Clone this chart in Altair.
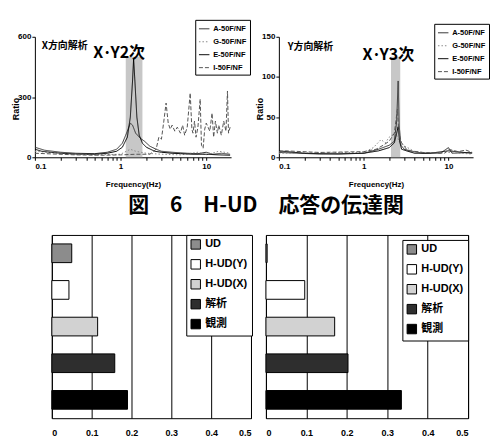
import altair as alt
import pandas as pd

FONT = "Liberation Sans, Noto Sans CJK JP, sans-serif"
CJK = "Noto Sans CJK JP"

# ---------------- top charts (transfer functions) ----------------
series = ["A-50F/NF", "G-50F/NF", "E-50F/NF", "I-50F/NF"]
series_colors = ["#333333", "#8a8a8a", "#000000", "#555555"]
series_dash = [[1, 0], [1.5, 2], [1, 0], [4, 2]]
series_width = [1.0, 1.0, 1.8, 1.0]

x_A = [(0.1, 50), (0.13, 35), (0.2, 25), (0.3, 20), (0.5, 18), (0.7, 25), (0.9, 40), (1.05, 70),
       (1.2, 130), (1.3, 170), (1.38, 160), (1.5, 120), (1.7, 95), (1.9, 80), (2.2, 55), (2.6, 40),
       (3.0, 30), (4.0, 25), (6.0, 20), (8.0, 18), (10, 25), (12, 15), (15, 20), (19, 15)]
x_G = [(0.1, 30), (0.2, 20), (0.5, 12), (1.0, 15), (1.3, 40), (1.5, 30), (2.0, 20), (3.0, 15),
       (5.0, 12), (8.0, 25), (10, 12), (14, 30), (19, 20)]
x_E = [(0.1, 40), (0.12, 30), (0.15, 25), (0.2, 20), (0.3, 16), (0.5, 15), (0.7, 20), (0.9, 30),
       (1.05, 50), (1.2, 100), (1.3, 200), (1.38, 380), (1.42, 490), (1.47, 380), (1.55, 200),
       (1.65, 110), (1.8, 70), (2.0, 50), (2.5, 30), (3.0, 25), (4.0, 20), (5.0, 18), (7.0, 15),
       (10, 15), (14, 12), (19, 10)]
x_I = [(0.1, 20), (0.3, 12), (0.6, 10), (1.0, 12), (1.5, 15), (2.2, 15), (2.6, 40), (2.8, 100),
       (3.0, 90), (3.2, 180), (3.4, 270), (3.6, 170), (3.8, 140), (4.0, 160), (4.3, 130), (4.6, 150),
       (5.0, 120), (5.3, 160), (5.6, 110), (6.0, 150), (6.5, 320), (6.8, 140), (7.0, 120), (7.3, 180),
       (7.6, 100), (8.0, 150), (8.5, 290), (8.8, 60), (9.2, 45), (9.6, 140), (10.0, 170), (10.5, 150),
       (11.0, 130), (11.7, 220), (12.2, 100), (12.8, 180), (13.5, 120), (14.0, 160), (15.0, 110),
       (16.0, 180), (17.0, 130), (17.7, 330), (18.2, 120), (19.0, 150)]

y_A = [(0.1, 6), (0.3, 4), (1.0, 5), (1.5, 10), (2.0, 15), (2.3, 20), (2.45, 45), (2.55, 95),
       (2.62, 40), (2.75, 15), (3.0, 10), (3.5, 8), (5.0, 5), (8.0, 5), (10, 12), (11, 5), (19, 6)]
y_G = [(0.1, 5), (1.0, 6), (1.3, 12), (1.6, 22), (1.8, 18), (2.0, 25), (2.2, 28), (2.4, 30),
       (2.6, 20), (2.9, 15), (3.3, 12), (4.0, 7), (6.0, 5), (10, 6), (19, 4)]
y_E = [(0.1, 8), (0.2, 5), (0.5, 4), (1.0, 5), (1.5, 8), (2.0, 12), (2.3, 18), (2.45, 30),
       (2.55, 38), (2.65, 20), (2.8, 10), (3.2, 8), (4.0, 5), (6.0, 5), (10, 8), (19, 5)]
y_I = [(0.1, 7), (0.12, 8), (0.3, 6), (1.0, 7), (1.4, 10), (1.7, 15), (2.0, 20), (2.3, 30),
       (2.5, 60), (2.6, 30), (2.8, 18), (3.2, 10), (3.6, 8), (5.0, 6), (9.0, 5), (10, 10), (13, 7),
       (16, 9), (19, 6)]

freq_ticks = [0.1, 0.2, 0.3, 0.4, 0.5, 0.6, 0.7, 0.8, 0.9, 1, 2, 3, 4, 5, 6, 7, 8, 9, 10]
x_yticks = [0, 300, 600]
y_yticks = [0, 50, 100, 150]

# ---------------- bottom charts ----------------
bar_cats = ["UD", "H-UD(Y)", "H-UD(X)", "解析", "観測"]
bar_left = [0.05, 0.043, 0.115, 0.158, 0.19]
bar_right = [0.003, 0.096, 0.17, 0.203, 0.335]
bar_colors = ["#8c8c8c", "#ffffff", "#d2d2d2", "#2e2e2e", "#000000"]
bar_ticks = [0, 0.1, 0.2, 0.3, 0.4, 0.5]


def line_panel(datasets, ymax, yticks, w, h, label, label_pos, ann, ann_pos, band, leg_xy):
    rows = [{"series": s, "f": f, "r": r} for s, pts in zip(series, datasets) for f, r in pts]
    df = pd.DataFrame(rows)
    xscale = alt.Scale(type="log", domain=[0.1, 19.5], nice=False)
    yscale = alt.Scale(domain=[0, ymax], nice=False)
    xaxis = alt.Axis(values=freq_ticks, labelOverlap=False,
                     labelExpr="datum.value == 0.1 ? '0.1' : datum.value == 1 ? '1' : datum.value == 10 ? '10' : ''",
                     title="Frequency(Hz)", titleFontSize=8, titleFontWeight="bold",
                     titleBaseline="middle", titleY=27, grid=False, tickSize=3, labelPadding=2,
                     labelFontSize=8, labelFontWeight="bold", domainColor="black", tickColor="black",
                     labelColor="black", titleColor="black")
    yaxis = alt.Axis(values=yticks, title="Ratio", titleFontSize=9, titleFontWeight="bold",
                     titleX=-14, titleY=72, grid=False, tickSize=3, labelPadding=1,
                     labelFontSize=8, labelFontWeight="bold", domainColor="black", tickColor="black",
                     labelColor="black", titleColor="black")
    bdf = pd.DataFrame({"f": [band[0]], "f2": [band[1]], "r": [0], "r2": [band[2]]})
    band_layer = alt.Chart(bdf).mark_rect(color="#bdbdbd", opacity=0.85).encode(
        x=alt.X("f:Q", scale=xscale, axis=xaxis), x2="f2:Q",
        y=alt.Y("r:Q", scale=yscale, axis=yaxis), y2="r2:Q")
    leg = alt.Legend(orient="none", legendX=leg_xy[0], legendY=leg_xy[1], title=None,
                     strokeColor="black", fillColor="white", padding=3, labelFontSize=7.5,
                     labelFontWeight="bold", labelColor="black", symbolSize=110, rowPadding=3,
                     labelOffset=3, symbolStrokeWidth=1.2)
    lines = alt.Chart(df).mark_line(clip=True).encode(
        x=alt.X("f:Q", scale=xscale, axis=xaxis),
        y=alt.Y("r:Q", scale=yscale, axis=yaxis),
        color=alt.Color("series:N", scale=alt.Scale(domain=series, range=series_colors), legend=leg),
        strokeDash=alt.StrokeDash("series:N", scale=alt.Scale(domain=series, range=series_dash), legend=leg),
        strokeWidth=alt.StrokeWidth("series:N", scale=alt.Scale(domain=series, range=series_width), legend=leg),
    )
    tdf = pd.DataFrame({"f": [label_pos[0]], "r": [label_pos[1]], "t": [label]})
    lab = alt.Chart(tdf).mark_text(align="left", baseline="middle", fontSize=10, font=CJK,
                                   fontWeight="bold", color="black").encode(
        x=alt.X("f:Q", scale=xscale), y=alt.Y("r:Q", scale=yscale), text="t:N")
    adf = pd.DataFrame({"f": [ann_pos[0]], "r": [ann_pos[1]], "t": [ann]})
    an = alt.Chart(adf).mark_text(align="center", baseline="middle", fontSize=16, font=CJK,
                                  fontWeight="bold", color="black").encode(
        x=alt.X("f:Q", scale=xscale), y=alt.Y("r:Q", scale=yscale), text="t:N")
    return alt.layer(band_layer, lines, lab, an).properties(width=w, height=h)


def bar_panel(vals, w, h, leg_xy):
    df = pd.DataFrame({"cat": bar_cats, "v": vals})
    leg = alt.Legend(orient="none", legendX=leg_xy[0], legendY=leg_xy[1], title=None,
                     symbolType="square", symbolSize=90, symbolStrokeColor="black",
                     symbolStrokeWidth=1, labelFontSize=11, labelFontWeight="bold",
                     labelColor="black", strokeColor="black", fillColor="white", padding=4,
                     rowPadding=5, labelFont=FONT)
    return alt.Chart(df).mark_bar(stroke="black", strokeWidth=1).encode(
        x=alt.X("v:Q", scale=alt.Scale(domain=[0, 0.5], nice=False),
                axis=alt.Axis(values=bar_ticks, format="~g", grid=True, gridColor="black",
                              gridOpacity=1, gridWidth=1, tickSize=0, labelPadding=10,
                              labelFontSize=9, labelFontWeight="bold", labelColor="black",
                              domain=False, title=None)),
        y=alt.Y("cat:N", sort=bar_cats, scale=alt.Scale(paddingInner=0.49, paddingOuter=0.245),
                axis=None),
        color=alt.Color("cat:N", scale=alt.Scale(domain=bar_cats, range=bar_colors), legend=leg),
    ).properties(width=w, height=h, view=alt.ViewBackground(stroke="black", strokeWidth=1))


top_left = line_panel([x_A, x_G, x_E, x_I], 600, x_yticks, 197, 121, "X方向解析", (0.12, 555),
                      "X·Y2次", (0.96, 520), (1.15, 1.8, 500), (161, -17))
top_right = line_panel([y_A, y_G, y_E, y_I], 150, y_yticks, 195, 121, "Y方向解析", (0.127, 137),
                       "X·Y3次", (1.95, 127), (2.1, 2.7, 125), (156, -13))

spacer = alt.Chart(pd.DataFrame({"a": [0]})).mark_point(opacity=0).encode(
    x=alt.X("a:Q", axis=None), y=alt.Y("a:Q", axis=None)).properties(width=2, height=184)

bot_left = bar_panel(bar_left, 200, 184, (135, 0))
bot_right = bar_panel(bar_right, 203, 184, (137, 5))

top_row = alt.hconcat(top_left, top_right, spacing=48, bounds="flush").resolve_scale(
    x="independent", y="independent", color="independent", strokeDash="independent",
    strokeWidth="independent").resolve_legend(color="independent", strokeDash="independent",
                                              strokeWidth="independent")

bottom_row = alt.hconcat(spacer, bot_left, bot_right, spacing=15, bounds="flush",
                         title=alt.TitleParams(text="図　6　H-UD　応答の伝達関", font=CJK,
                                               fontSize=21, fontWeight="bold", color="black",
                                               anchor="middle", dx=15, offset=-3,
                                               baseline="bottom")).resolve_scale(
    x="independent", y="independent", color="independent").resolve_legend(color="independent")

chart = alt.vconcat(top_row, bottom_row, spacing=199, bounds="flush").resolve_scale(
    x="independent", y="independent", color="independent", strokeDash="independent",
    strokeWidth="independent").resolve_legend(color="independent", strokeDash="independent",
                                              strokeWidth="independent").properties(
    padding={"left": 4, "top": 10, "right": 0, "bottom": 0}, background="white"
).configure(font=FONT).configure_view(strokeWidth=0)

chart.save("out.html", embed_options={"renderer": "svg", "actions": False})
